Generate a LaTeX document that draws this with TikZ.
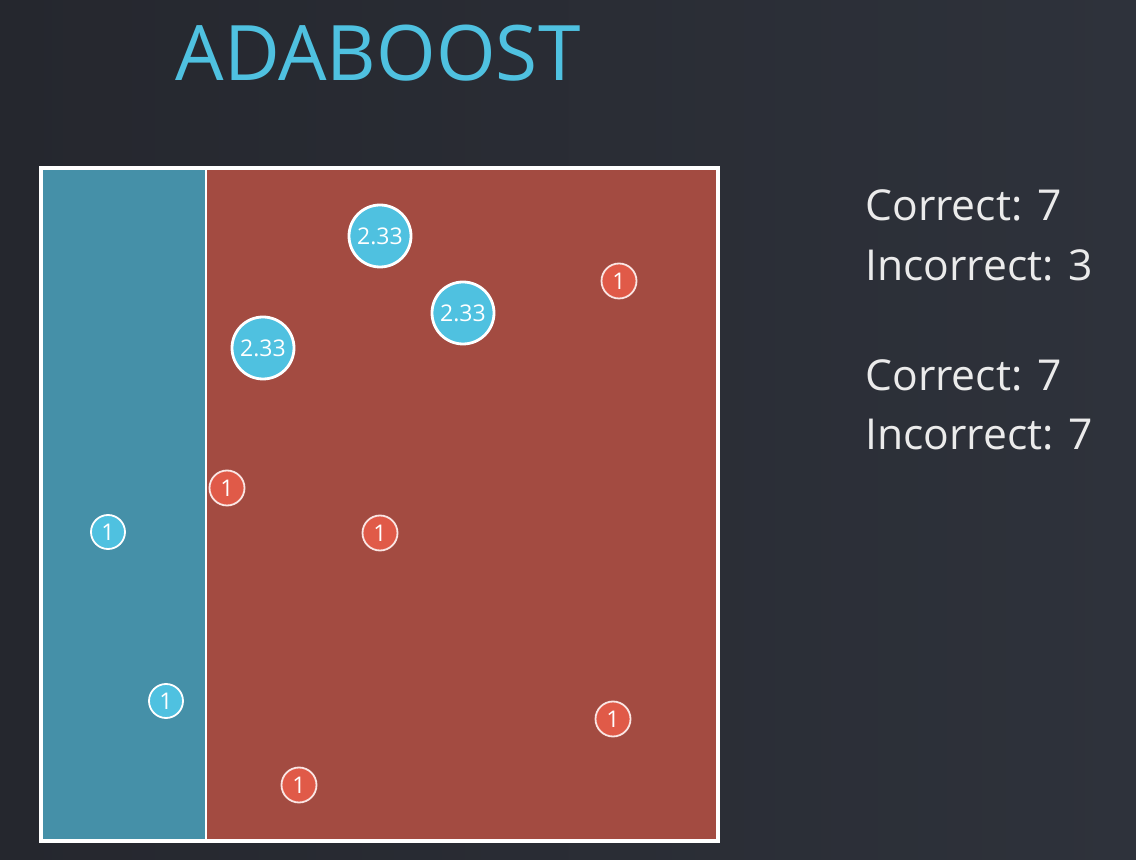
\documentclass[tikz,border=0pt]{standalone}
\usepackage{fontspec}
\setmainfont{Open Sans}
\definecolor{bg}{HTML}{25272E}
\definecolor{bgB}{HTML}{2E323B}
\definecolor{tealreg}{HTML}{4590A8}
\definecolor{redreg}{HTML}{A34B41}
\definecolor{bluept}{HTML}{4FC1E0}
\definecolor{redpt}{HTML}{E05A48}
\definecolor{titlecol}{HTML}{4FC1E0}
\tikzset{
  big/.style={circle, fill=bluept, draw=white, line width=1.4pt, minimum size=31pt, inner sep=0pt, text=white, font=\fontsize{11.5}{12}\selectfont},
  smallred/.style={circle, fill=redpt, draw=white!85!redpt, line width=0.9pt, minimum size=17.5pt, inner sep=0pt, text=white, font=\fontsize{11.5}{12}\selectfont},
  smallblue/.style={circle, fill=bluept, draw=white, line width=0.9pt, minimum size=17pt, inner sep=0pt, text=white, font=\fontsize{11.5}{12}\selectfont},
  side/.style={anchor=west, text=white!92!black, font=\fontsize{21.3}{25}\selectfont, inner sep=0pt}
}
\begin{document}
\begin{tikzpicture}[x=0.5pt,y=-0.5pt]
\shade[left color=bg, right color=bgB] (0,0) rectangle (1136,860);
\useasboundingbox (0,0) rectangle (1136,860);
% regions
\fill[tealreg] (41,168) rectangle (205,841);
\fill[redreg] (205,168) rectangle (718,841);
\draw[white, line width=1.6pt] (41,168) rectangle (718,841);
\coordinate (dtop) at (206,168);
\coordinate (dbot) at (206,841);
\draw[white, line width=1.2pt] (dtop) -- (dbot);
% title
\node[text=titlecol, font=\fontsize{38.3}{42}\selectfont, inner sep=0pt] (title) at (378,53) {ADABOOST};
% points
\node[big] (b1) at (380,236) {2.33};
\node[big] (b2) at (463,313) {2.33};
\node[big] (b3) at (263,348) {2.33};
\node[smallred] (r1) at (619,281) {1};
\node[smallred] (r2) at (227,488) {1};
\node[smallred] (r3) at (380,533) {1};
\node[smallred] (r4) at (613,719) {1};
\node[smallred] (r5) at (299,785) {1};
\node[smallblue] (s1) at (108,532) {1};
\node[smallblue] (s2) at (166,701) {1};
% side text
\node[side] (c1) at (865,205) {Correct: 7};
\node[side] (i1) at (865,265) {Incorrect: 3};
\node[side] (c2) at (865,375) {Correct: 7};
\node[side] (i2) at (865,435) {Incorrect: 7};
\end{tikzpicture}
\end{document}
